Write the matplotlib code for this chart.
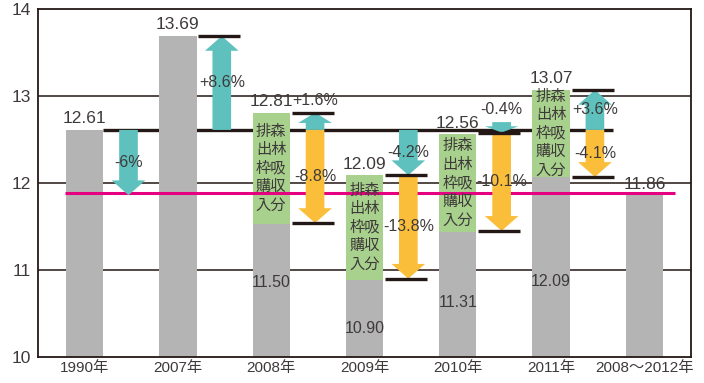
import numpy as np
import matplotlib.pyplot as plt
from matplotlib.patches import Polygon

plt.rcParams['font.family'] = ['Liberation Sans', 'Noto Sans CJK JP', 'DejaVu Sans']

years = ['1990年', '2007年', '2008年', '2009年', '2010年', '2011年', '2008～2012年']
emissions = [12.61, 13.69, 12.81, 12.09, 12.56, 13.07, 11.86]
emission_labels = ['12.61', '13.69', '12.81', '12.09', '12.56', '13.07', '11.86']
net_values = [None, None, 11.50, 10.90, 11.31, 12.09, None]
green_bottom = [None, None, 11.53, 10.89, 11.44, 12.07, None]
base_value = 12.61
target_value = 11.88

# arrows
arrow_pos = [0, 1, 2, 2, 3, 3, 4, 4, 5, 5]
arrow_start = [12.61, 12.61, 12.61, 12.61, 12.61, 12.09, 12.70, 12.58, 12.61, 12.61]
arrow_end = [11.86, 13.69, 12.81, 11.54, 12.09, 10.90, 12.58, 11.45, 13.07, 12.07]
arrow_kind = ['t', 't', 't', 'o', 't', 'o', 't', 'o', 't', 'o']
arrow_labels = ['-6%', '+8.6%', '+1.6%', '-8.8%', '-4.2%', '-13.8%', '-0.4%', '-10.1%', '+3.6%', '-4.1%']

net_label_y = [None, None, 10.86, 10.33, 10.63, 10.87, None]

gray = '#b4b4b4'
green = '#a9d18e'
teal = '#5ec1bd'
orange = '#fbbe3a'
pink = '#e4007f'
dark = '#231815'
txt = '#3e3a39'

fig = plt.figure(figsize=(7.04, 3.83), dpi=100)
ax = fig.add_axes([38/704, 26/383, 653/704, 348/383])

x = np.arange(len(years))
w = 0.4

for yv in [11, 12, 13]:
    ax.axhline(yv, color=dark, lw=1.1, zorder=0)

ax.plot([0.2, 5.66], [base_value, base_value], color=dark, lw=2.4, zorder=1, solid_capstyle='butt')
ax.bar(x, emissions, width=w, bottom=0, color=gray, zorder=2)

for i in range(len(years)):
    if green_bottom[i] is not None:
        ax.bar(x[i], emissions[i] - green_bottom[i], width=w, bottom=green_bottom[i],
               color=green, zorder=3)
        ax.text(x[i], (emissions[i] + green_bottom[i]) / 2, '排森\n出林\n枠吸\n購収\n入分',
                ha='center', va='center', fontsize=11, linespacing=1.12,
                family=['Noto Sans CJK JP'], color=txt, zorder=6)
        ax.text(x[i], net_label_y[i], f'{net_values[i]:.2f}', ha='center', va='center',
                fontsize=11.5, color=txt, zorder=6)
    ax.text(x[i], emissions[i] + 0.04, emission_labels[i], ha='center', va='bottom',
            fontsize=12.5, color=txt, zorder=6)

ax.plot([-0.21, 6.33], [target_value, target_value], color=pink, lw=2.2, zorder=4,
        solid_capstyle='butt')

# level marks at the arrow ends
for p, e in zip(arrow_pos, arrow_end):
    if p > 0:
        ax.plot([p + 0.22, p + 0.67], [e, e], color=dark, lw=2.4, zorder=7,
                solid_capstyle='butt')

for p, s, e, k, lab in zip(arrow_pos, arrow_start, arrow_end, arrow_kind, arrow_labels):
    cx = p + 0.47
    length = abs(e - s)
    d = 1 if e > s else -1
    hl = min(0.17, 0.6 * length)
    sw, hw = 0.1, 0.18
    neck = e - d * hl
    pts = [(cx - sw, s), (cx - sw, neck), (cx - hw, neck), (cx, e),
           (cx + hw, neck), (cx + sw, neck), (cx + sw, s)]
    ax.add_patch(Polygon(pts, closed=True, color=teal if k == 't' else orange,
                         lw=0, zorder=5))
    if length < 0.3:
        ty = max(s, e) + 0.14
    else:
        ty = (s + e) / 2
    ax.text(cx, ty, lab, ha='center', va='center', fontsize=11.5, color=txt, zorder=8)

ax.set_xlim(-0.5, 6.5)
ax.set_ylim(10, 14)
ax.set_yticks([10, 11, 12, 13, 14])
ax.set_xticks(x)
ax.set_xticklabels(years, fontsize=11, color=txt)
ax.tick_params(axis='y', labelsize=12.5, labelcolor=txt, length=0, pad=5)
ax.tick_params(axis='x', length=0, pad=3)
for sp in ax.spines.values():
    sp.set_color(dark)
    sp.set_linewidth(1.3)

fig.savefig('out.png', dpi=100)
